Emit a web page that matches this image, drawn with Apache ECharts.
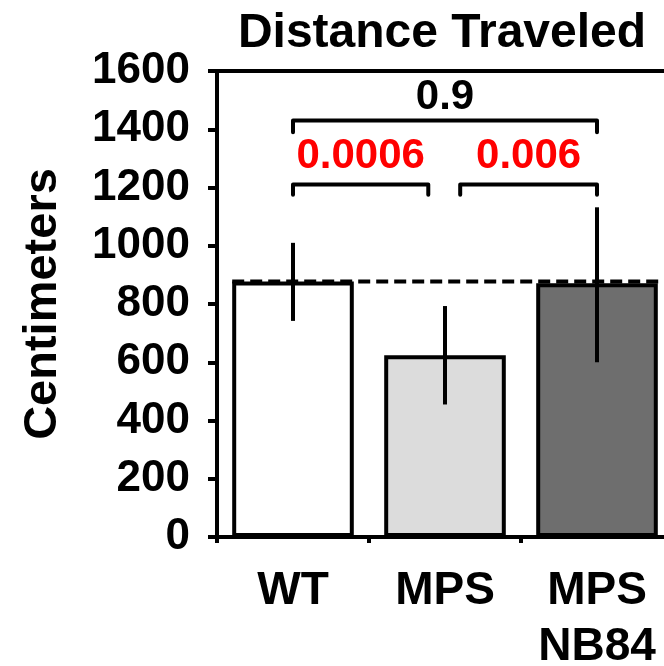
<!DOCTYPE html>
<html>
<head>
<meta charset="utf-8">
<script src="https://cdn.jsdelivr.net/npm/echarts@6/dist/echarts.min.js"></script>
<style>html,body{margin:0;padding:0;background:#fff}#c{width:664px;height:666px}</style>
</head>
<body>
<div id="c"></div>
<script>
const categories = ['WT', 'MPS', 'MPS\nNB84'];
const means = [877, 624, 871];
const errLow = [742, 455, 600];
const errHigh = [1010, 793, 1132];
const barColors = ['#ffffff', '#dcdcdc', '#6e6e6e'];
const yMin = 0, yMax = 1600, yInterval = 200;

const bracketLabels = ['0.9', '0.0006', '0.006'];
const bracketColors = ['#000000', '#ff0000', '#ff0000'];
const bracketFrom = [0, 0, 1.1];
const bracketTo = [2, 0.89, 2];
const bracketTop = [1430, 1210, 1210];
const bracketLeg = [1390, 1175, 1175];
const bracketLabelY = [1510, 1305, 1305];

const dashFrom = -0.4, dashTo = 2.5;

const FONT = "'Liberation Sans', Arial, sans-serif";
const LW = 4;
const chart = echarts.init(document.getElementById('c'), null, {renderer: 'canvas'});

const series = [];
series.push({
  type: 'bar',
  xAxisIndex: 0, yAxisIndex: 0,
  barWidth: '80%',
  z: 2,
  data: means.map((v, i) => ({value: v, itemStyle: {color: barColors[i], borderColor: '#000', borderWidth: LW}}))
});
categories.forEach((c, i) => {
  series.push({
    type: 'line',
    xAxisIndex: 1, yAxisIndex: 0,
    z: 3, symbol: 'none', silent: true,
    lineStyle: {color: '#000', width: LW},
    data: [[i, errLow[i]], [i, errHigh[i]]]
  });
});
series.push({
  type: 'line',
  xAxisIndex: 1, yAxisIndex: 0,
  z: 4, symbol: 'none', silent: true,
  lineStyle: {color: '#000', width: LW, type: [12, 6]},
  data: [[dashFrom, means[0]], [dashTo, means[0]]]
});
bracketLabels.forEach((lab, i) => {
  series.push({
    type: 'line',
    xAxisIndex: 1, yAxisIndex: 0,
    z: 5, symbol: 'none', silent: true,
    lineStyle: {color: '#000', width: LW, join: 'round', cap: 'round'},
    data: [[bracketFrom[i], bracketLeg[i]], [bracketFrom[i], bracketTop[i]], [bracketTo[i], bracketTop[i]], [bracketTo[i], bracketLeg[i]]]
  });
  series.push({
    type: 'scatter',
    xAxisIndex: 1, yAxisIndex: 0,
    z: 6, symbolSize: 0.1, silent: true,
    itemStyle: {color: '#ffffff', opacity: 1},
    label: {show: true, position: 'inside', formatter: lab, color: bracketColors[i], fontSize: 42, fontWeight: 'bold', fontFamily: FONT},
    data: [[(bracketFrom[i] + bracketTo[i]) / 2, bracketLabelY[i]]]
  });
});

chart.setOption({
  animation: false,
  backgroundColor: '#fff',
  title: {
    text: 'Distance Traveled',
    left: 437, top: 5, textAlign: 'center',
    textStyle: {fontSize: 48, fontWeight: 'bold', color: '#000', fontFamily: FONT}
  },
  grid: {left: 217, width: 456, top: 71, bottom: 129, containLabel: false, outerBoundsMode: 'none'},
  xAxis: [{
    type: 'category',
    data: categories,
    position: 'bottom',
    axisLine: {show: true, onZero: false, lineStyle: {color: '#000', width: LW}},
    axisTick: {show: true, length: 6, lineStyle: {color: '#000', width: LW}},
    axisLabel: {interval: 0, color: '#000', fontSize: 46, fontWeight: 'bold', fontFamily: FONT, lineHeight: 56, margin: 26},
    splitLine: {show: false}
  }, {
    type: 'value',
    min: -0.5, max: 2.5,
    position: 'top',
    axisLine: {show: true, onZero: false, lineStyle: {color: '#000', width: LW}},
    axisTick: {show: false},
    axisLabel: {show: false},
    splitLine: {show: false}
  }],
  yAxis: [{
    type: 'value',
    min: yMin, max: yMax, interval: yInterval,
    position: 'left',
    name: 'Centimeters',
    nameLocation: 'middle',
    nameGap: 150,
    nameTextStyle: {fontSize: 47, fontWeight: 'bold', color: '#000', fontFamily: FONT},
    axisLine: {show: true, onZero: false, lineStyle: {color: '#000', width: LW}},
    axisTick: {show: true, length: 9, lineStyle: {color: '#000', width: LW}},
    axisLabel: {color: '#000', fontSize: 44, fontWeight: 'bold', fontFamily: FONT, margin: 27, formatter: v => String(v)},
    splitLine: {show: false}
  }],
  series: series
});
</script>
</body>
</html>
